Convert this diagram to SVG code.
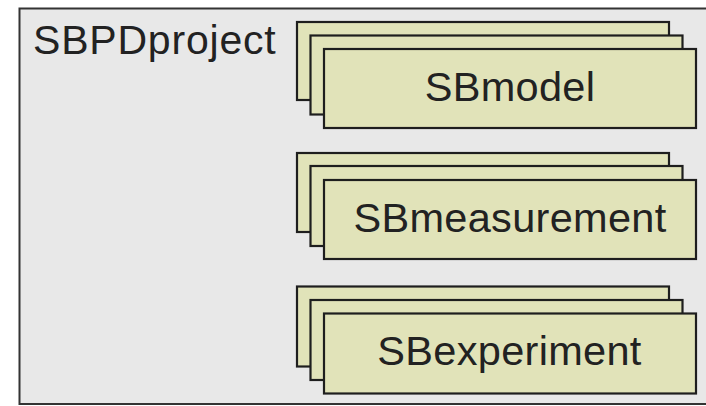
<svg xmlns="http://www.w3.org/2000/svg" width="706" height="406" viewBox="0 0 706 406">
<style>
.frame{fill:#e8e8e8;stroke:#333;stroke-width:2}
.card{fill:#e1e3b9;stroke:#1e1e1e;stroke-width:2.2}
.lbl{font-family:"Liberation Sans",Arial,sans-serif;font-size:41.5px;fill:#222;text-anchor:middle;letter-spacing:0.3px}
.title{font-family:"Liberation Sans",Arial,sans-serif;font-size:41px;fill:#222;letter-spacing:0.8px}
</style>
<rect width="706" height="406" fill="#ffffff"/>
<g id="SBPDproject">
<rect class="frame" x="19.5" y="8.5" width="700" height="395.5"/>
<text class="title" x="33" y="53.5">SBPDproject</text>
</g>
<g id="SBmodel">
<rect class="card" x="297" y="22" width="372" height="78"/>
<rect class="card" x="310.5" y="35.5" width="372" height="79"/>
<rect class="card" x="324" y="49" width="372" height="79"/>
<text class="lbl" x="510" y="100.5">SBmodel</text>
</g>
<g id="SBmeasurement">
<rect class="card" x="297" y="153" width="372" height="79"/>
<rect class="card" x="310.5" y="166" width="372" height="80"/>
<rect class="card" x="324" y="180" width="372" height="79"/>
<text class="lbl" x="510" y="232">SBmeasurement</text>
</g>
<g id="SBexperiment">
<rect class="card" x="297" y="286.5" width="372" height="80"/>
<rect class="card" x="310.5" y="300" width="372" height="80"/>
<rect class="card" x="324" y="313.5" width="372" height="80"/>
<text class="lbl" x="509.5" y="364.5">SBexperiment</text>
</g>
<g id="connectors"/>
</svg>
